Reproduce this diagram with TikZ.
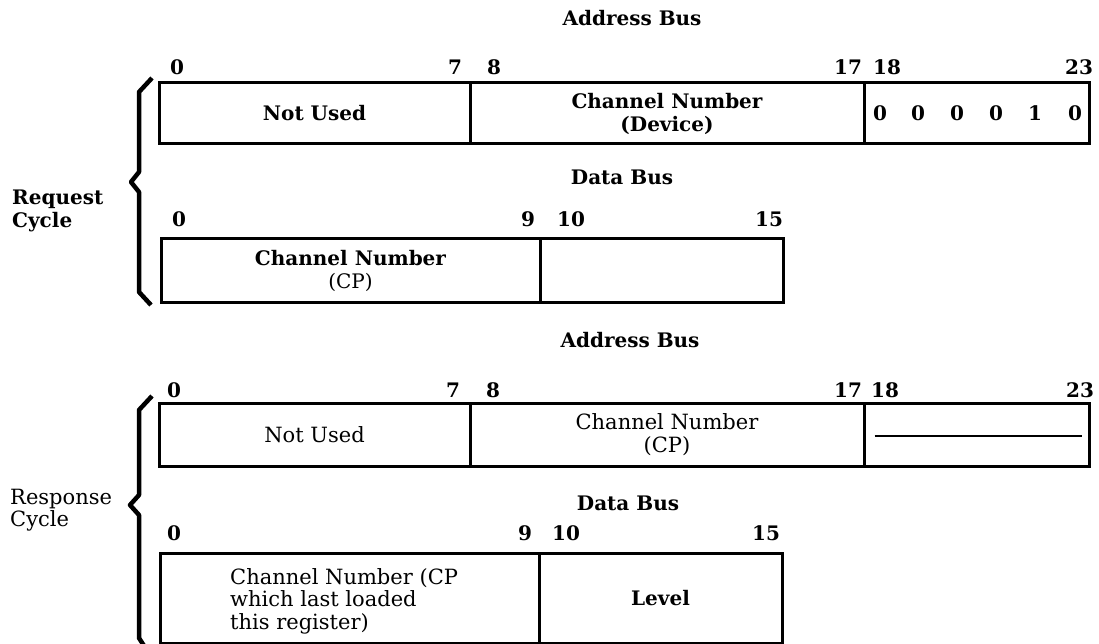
\documentclass[tikz,border=0pt]{standalone}
\usepackage{fontspec}
\setmainfont{DejaVu Serif}
\usetikzlibrary{calc}
\begin{document}
\begin{tikzpicture}[x=1pt,y=-1pt,
  field/.style={draw, line width=3pt, inner sep=0pt, anchor=center, align=center, font=\fontsize{21}{23}\selectfont},
  bfield/.style={field, font=\bfseries\fontsize{20}{23}\selectfont},
  lbl/.style={inner sep=0pt, font=\bfseries\fontsize{20}{23}\selectfont},
  txt/.style={inner sep=0pt, align=left, font=\fontsize{21}{22.5}\selectfont},
  brace/.style={line width=4.5pt, line join=round, line cap=butt}]
\useasboundingbox (0,0) rectangle (1099,644);

% ---------------- Request cycle ----------------
\node[lbl] (ab1) at (632,18) {Address Bus};
\node[lbl] (l0a) at (177,67) {0};
\node[lbl] (l7a) at (455,67) {7};
\node[lbl] (l8a) at (494,67) {8};
\node[lbl] (l17a) at (848,67) {17};
\node[lbl] (l18a) at (887,67) {18};
\node[lbl] (l23a) at (1079,67) {23};

\node[bfield, minimum width=311pt, minimum height=61pt] (a1) at (314.5,113.5) {Not Used};
\node[bfield, minimum width=394pt, minimum height=61pt] (a2) at (667,113.5) {Channel Number\\(Device)};
\node[field, minimum width=225pt, minimum height=61pt] (a3) at (976.5,113.5) {};
\node[lbl] (b1) at (880,113) {0};
\node[lbl] (b2) at (918,113) {0};
\node[lbl] (b3) at (957,113) {0};
\node[lbl] (b4) at (996,113) {0};
\node[lbl] (b5) at (1035,113) {1};
\node[lbl] (b6) at (1075,113) {0};

\node[lbl] (db1) at (622,177) {Data Bus};
\node[lbl] (l0b) at (179,219) {0};
\node[lbl] (l9b) at (528,219) {9};
\node[lbl] (l10b) at (571,219) {10};
\node[lbl] (l15b) at (769,219) {15};

\node[bfield, minimum width=379pt, minimum height=63pt] (d1) at (350.5,270.5) {Channel Number\\{\mdseries\fontsize{20}{23}\selectfont(CP)}};
\node[field, minimum width=243pt, minimum height=63pt] (d2) at (661.5,270.5) {};

\draw[brace] (152,78) -- (139,92) -- (139,172) -- (131,182) -- (139,192) -- (139,292) -- (151,305);
\node[txt, font=\bfseries\fontsize{20}{23}\selectfont, anchor=west] (rq) at (12,210.5) {Request\\Cycle};

% ---------------- Response cycle ----------------
\node[lbl] (ab2) at (630,340) {Address Bus};
\node[lbl] (l0c) at (174,390) {0};
\node[lbl] (l7c) at (453,390) {7};
\node[lbl] (l8c) at (493,390) {8};
\node[lbl] (l17c) at (848,390) {17};
\node[lbl] (l18c) at (885,390) {18};
\node[lbl] (l23c) at (1080,390) {23};

\node[field, minimum width=311pt, minimum height=63pt] (r1) at (314.5,434.5) {Not Used};
\node[field, minimum width=394pt, minimum height=63pt] (r2) at (667,434.5) {Channel Number\\(CP)};
\node[field, minimum width=225pt, minimum height=63pt] (r3) at (976.5,434.5) {};
\draw[line width=2pt] ([xshift=12pt,yshift=-1.5pt]r3.west) -- ([xshift=-9pt,yshift=-1.5pt]r3.east);

\node[lbl] (db2) at (628,503) {Data Bus};
\node[lbl] (l0d) at (174,533) {0};
\node[lbl] (l9d) at (525,533) {9};
\node[lbl] (l10d) at (566,533) {10};
\node[lbl] (l15d) at (766,533) {15};

\node[field, minimum width=379pt, minimum height=90pt] (r4) at (349.5,598) {};
\node[txt, anchor=north west] (r4t) at (230,568) {Channel Number (CP\\which last loaded\\this register)};
\node[bfield, minimum width=243pt, minimum height=90pt] (r5) at (660.5,598) {Level};

\draw[brace] (152,396) -- (139,410) -- (139,495) -- (130,505) -- (139,515) -- (139,638) -- (148,652);
\node[txt, anchor=west] (rs) at (10,510) {Response\\Cycle};
\end{tikzpicture}
\end{document}
